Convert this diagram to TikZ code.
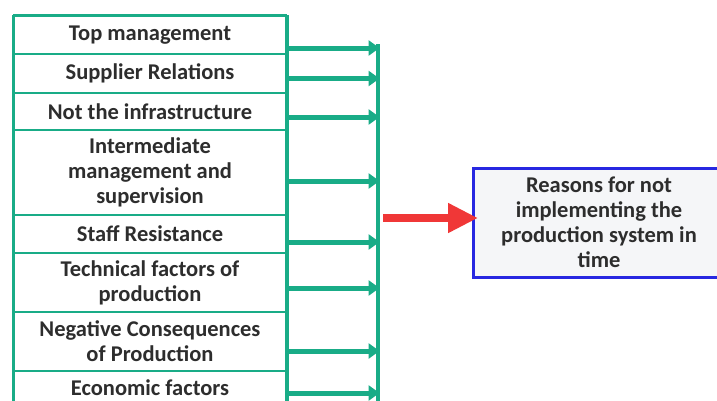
\documentclass[tikz,border=0pt]{standalone}
\usepackage{fontspec}
\setmainfont{Carlito}
\usetikzlibrary{arrows.meta,positioning}
\definecolor{grn}{RGB}{25,172,135}
\definecolor{blu}{RGB}{40,40,225}
\definecolor{redar}{RGB}{240,55,55}
\definecolor{txt}{RGB}{45,45,45}
\definecolor{boxfill}{RGB}{245,246,248}
\tikzset{
  lbl/.style={font=\fontsize{22.5}{25}\selectfont\bfseries, text=txt, align=center},
  rowbox/.style={lbl, draw=grn, line width=2pt, minimum width=272pt, inner sep=0pt, anchor=north west},
  feed/.style={draw=grn, line width=5pt, -{Triangle[length=11pt,width=15pt]}, shorten >=-1.5pt},
  bus/.style={draw=grn, line width=4.5pt},
  goal/.style={draw=blu, line width=2.5pt, fill=boxfill, inner sep=0pt, anchor=north west,
    minimum width=260pt, minimum height=109pt},
  big/.style={draw=redar, line width=8pt, -{Triangle[length=30pt,width=28pt]}}
}
\begin{document}
\begin{tikzpicture}[x=1pt,y=-1pt]
\useasboundingbox (0,0) rectangle (717,400);
\clip (0,0) rectangle (717,400);
\fill[white] (0,0) rectangle (717,400);
% left boxes
\node[rowbox, minimum height=38pt] (r1) at (13,15) {Top management};
\node[rowbox, minimum height=39pt] (r2) at (13,53) {Supplier Relations};
\node[rowbox, minimum height=37pt] (r3) at (13,92) {Not the infrastructure};
\node[rowbox, minimum height=85pt] (r4) at (13,129) {Intermediate\\management and\\supervision};
\node[rowbox, minimum height=38pt] (r5) at (13,214) {Staff Resistance};
\node[rowbox, minimum height=59pt] (r6) at (13,252) {Technical factors of\\production};
\node[rowbox, minimum height=59pt] (r7) at (13,311) {Negative Consequences\\of Production};
\node[rowbox, minimum height=34pt] (r8) at (13,370) {Economic factors};
% outer border thicker
\draw[grn, line width=3pt] (r1.north west) -- (r1.north east);
\draw[grn, line width=3pt] (r1.north west) -- (r8.south west);
\draw[grn, line width=3pt] (r1.north east) -- (r8.south east);
% bus
\coordinate (bt) at (378,44);
\coordinate (bb) at (378,401);
\draw[bus] (bt) -- (bb);
% feeders
\coordinate (a1) at ([yshift=-13pt]r1.east);
\coordinate (a2) at ([yshift=-5pt]r2.east);
\coordinate (a3) at ([yshift=-5.5pt]r3.east);
\coordinate (a4) at ([yshift=-8.5pt]r4.east);
\coordinate (a5) at ([yshift=-8pt]r5.east);
\coordinate (a6) at ([yshift=-5.5pt]r6.east);
\coordinate (a7) at ([yshift=-9.5pt]r7.east);
\coordinate (a8) at ([yshift=-5pt]r8.east);
\foreach \i in {1,...,8} {\draw[feed] (a\i) -- (a\i -| bt);}
% goal box
\node[goal] (g) at (472,167) {};
\node[lbl] (gt) at (599,222) {Reasons for not\\implementing the\\production system in\\time};
% red arrow
\coordinate (rs) at (383,218);
\draw[big] (rs) -- ([xshift=6pt]g.west |- rs);
\end{tikzpicture}
\end{document}
